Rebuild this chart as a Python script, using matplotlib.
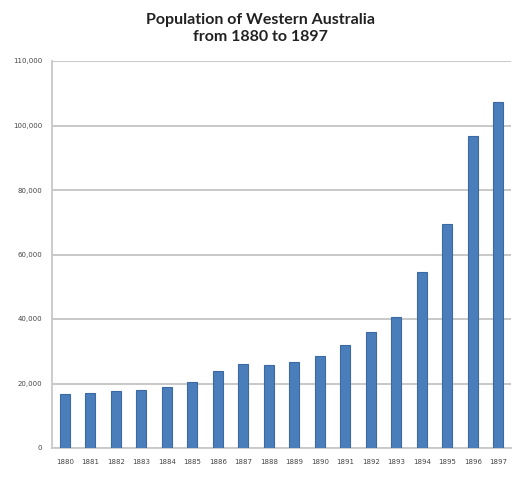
import matplotlib
matplotlib.use('Agg')
import matplotlib.pyplot as plt

years = [str(y) for y in range(1880, 1898)]
population = [16700, 17200, 17700, 18100, 18900, 20600, 23800, 25900, 25650,
              26800, 28500, 32000, 35900, 40700, 54700, 69450, 96800, 107300]

y_ticks = [0, 20000, 40000, 60000, 80000, 100000, 120000]
y_tick_labels = ['0', '20,000', '40,000', '60,000', '80,000', '100,000', '110,000']

fig = plt.figure(figsize=(5.21, 4.8), dpi=100)
ax = fig.add_axes([52 / 521, 32 / 480, 459 / 521, 387 / 480])

x = range(len(years))
ax.bar(x, population, width=0.4, color='#4a7ebb', edgecolor='#3b69a3', linewidth=0.8, zorder=3)

ax.set_xlim(-0.5, len(years) - 0.5)
ax.set_ylim(0, 120000)
ax.set_yticks(y_ticks)
ax.set_yticklabels(y_tick_labels)
ax.set_xticks(list(x))
ax.set_xticklabels(years)
ax.tick_params(axis='both', length=0, labelsize=5, labelcolor='#444444')
ax.tick_params(axis='y', pad=7)
ax.tick_params(axis='x', pad=8)

ax.yaxis.grid(True, color='#c4c4c4', linewidth=1.3, zorder=0)
for s in ['top', 'right']:
    ax.spines[s].set_visible(False)
ax.spines['left'].set_color('#c8c8c8')
ax.spines['left'].set_linewidth(1.3)
ax.spines['bottom'].set_color('#c8c8c8')
ax.spines['bottom'].set_linewidth(1.3)

fig.text(0.5, 1 - 28.5 / 480, 'Population of Western Australia\nfrom 1880 to 1897',
         ha='center', va='center', fontsize=11.5, fontweight='bold',
         family=['Lato', 'DejaVu Sans'], color='#222222', linespacing=1.2)

fig.savefig('out.png', dpi=100)
